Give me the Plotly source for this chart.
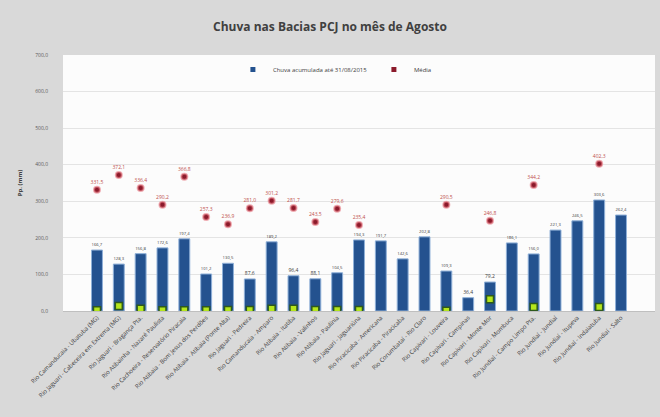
import plotly.graph_objects as go

postos = [
    "Rio Camanducaia - Ubatuba (MG)",
    "Rio Jaguari - Cabeceira em Extrema (MG)",
    "Rio Jaguari - Bragança Pta.",
    "Rio Atibainha - Nazaré Paulista",
    "Rio Cachoeira - Reservatório Piracaia",
    "Rio Atibaia - Bom Jesus dos Perdões",
    "Rio Atibaia - Atibaia (Ponte Alta)",
    "Rio Jaguari - Pedreira",
    "Rio Camanducaia - Amparo",
    "Rio Atibaia - Itatiba",
    "Rio Atibaia - Valinhos",
    "Rio Atibaia - Paulínia",
    "Rio Jaguari - Jaguariúna",
    "Rio Piracicaba - Americana",
    "Rio Piracicaba - Piracicaba",
    "Rio Corumbataí - Rio Claro",
    "Rio Capivari - Louveira",
    "Rio Capivari - Campinas",
    "Rio Capivari - Monte Mor",
    "Rio Capivari - Mombuca",
    "Rio Jundiaí - Campo Limpo Pta.",
    "Rio Jundiaí - Jundiaí",
    "Rio Jundiaí - Itupeva",
    "Rio Jundiaí - Indaiatuba",
    "Rio Jundiaí - Salto",
]

chuva = [166.7, 128.3, 156.8, 172.6, 197.4, 101.2, 130.5, 87.6, 189.2, 96.4,
         88.1, 104.5, 194.3, 191.7, 142.6, 202.8, 109.3, 36.4, 79.2, 186.1,
         156.0, 221.3, 246.5, 303.6, 262.4]

media = [331.5, 372.1, 336.4, 290.2, 366.8, 257.3, 236.9, 281.0, 301.2, 281.7,
         243.5, 279.6, 235.4, None, None, None, 290.5, None, 246.8, None,
         344.2, None, None, 402.3, None]

dia = [2.0, 14.0, 6.0, 2.0, 2.0, 2.0, 3.0, 3.0, 6.0, 6.0,
       3.0, 3.0, 3.0, None, None, None, 1.0, None, 32.0, None,
       11.0, None, None, 11.0, None]

def fmt(v):
    return "" if v is None else f"{v:.1f}".replace(".", ",")

BLUE = "#24528f"
RED = "#8b1a2b"

fig = go.Figure()

fig.add_trace(go.Bar(
    x=postos, y=chuva, name="Chuva acumulada até 31/08/2015", showlegend=False,
    marker=dict(color=BLUE, line=dict(color="#8fb0d8", width=1)),
    width=0.5,
    text=[fmt(v) for v in chuva], textposition="outside",
    textfont=dict(size=5, color="#404040"), cliponaxis=False,
))

fig.add_trace(go.Scatter(
    x=postos, y=dia, mode="markers", name="Chuva no dia", showlegend=False,
    marker=dict(symbol="square", size=7, color="#b5e61d",
                line=dict(color="#2e5a1c", width=1.5)),
))

fig.add_trace(go.Scatter(
    x=postos, y=media, mode="markers+text", name="Média", showlegend=False,
    marker=dict(symbol="circle", size=6, color=RED,
                line=dict(color="rgba(230,120,130,0.6)", width=2)),
    text=[fmt(v) for v in media], textposition="top center",
    textfont=dict(size=5, color="#c0504d"),
))

# legend entries
fig.add_trace(go.Scatter(x=[None], y=[None], mode="markers",
                         name="Chuva acumulada até 31/08/2015",
                         marker=dict(symbol="square", size=5, color=BLUE)))
fig.add_trace(go.Scatter(x=[None], y=[None], mode="markers", name="Média",
                         marker=dict(symbol="square", size=5, color=RED)))

fig.update_layout(
    width=660, height=417,
    paper_bgcolor="#d9d9d9", plot_bgcolor="#fcfcfc",
    margin=dict(l=63, r=5, t=55, b=106),
    separators=",.",
    title=dict(text="<b>Chuva nas Bacias PCJ no mês de Agosto</b>", x=0.5, xanchor="center",
               y=0.935, yanchor="middle",
               font=dict(family="Open Sans", size=12, color="#404040")),
    font=dict(family="Open Sans", color="#595959"),
    bargap=0.5,
    legend=dict(orientation="h", x=0.287, xanchor="left", y=1.0, yanchor="top",
                bgcolor="rgba(0,0,0,0)", font=dict(size=6, color="#404040"),
                itemwidth=30, entrywidth=96, entrywidthmode="pixels"),
    showlegend=True,
)

fig.update_yaxes(range=[0, 700], dtick=100, tickformat=".1f",
                 gridcolor="#e4e4e4", zeroline=False, showline=False,
                 tickfont=dict(size=5, color="#595959"), ticklabelstandoff=14,
                 title=dict(text="<b>Pp. (mm)</b>", font=dict(size=6, color="#404040"), standoff=12))
fig.update_xaxes(tickangle=-45, tickfont=dict(size=6, color="#404040"),
                 showline=True, linecolor="#bfbfbf", ticks="")

fig.write_html("out.html")
